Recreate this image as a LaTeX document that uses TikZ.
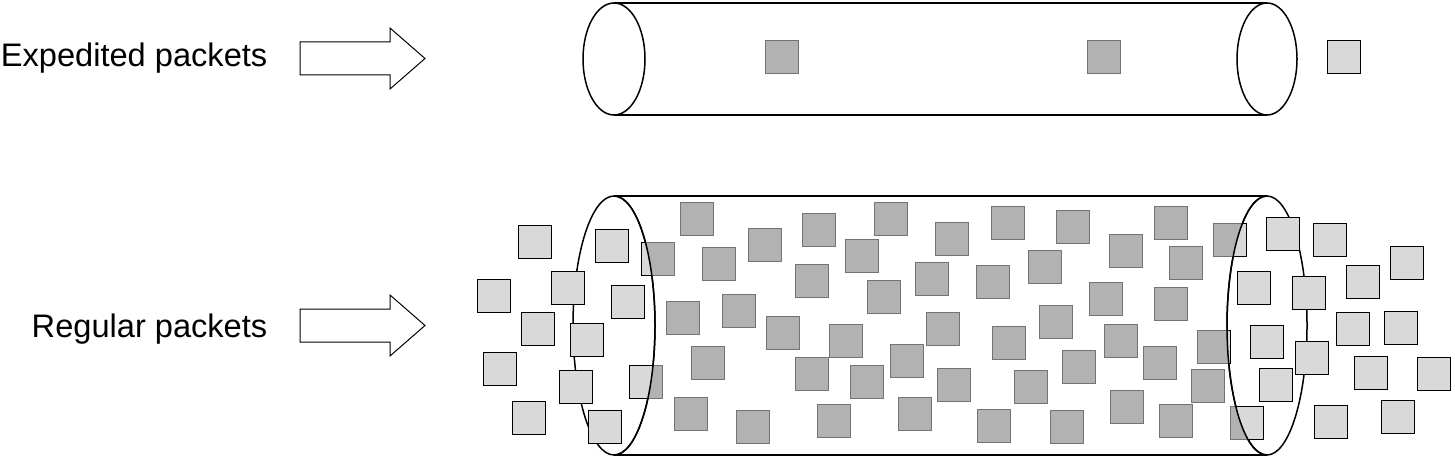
\documentclass[tikz,border=0pt]{standalone}
\usepackage{fontspec}
\setmainfont{Liberation Sans}

% packet centres of the lower pipe (x/y in pixels, y down)
\newcommand\pktlist{535/242,612/246,494/296,568/288,628/302,538/329,587/340,500/369,576/387,529/418,605/427,
697/219,658/259,765/245,719/264,683/318,739/311,783/333,708/363,646/382,691/414,753/427,
819/230,891/219,862/256,952/239,1008/223,1073/227,1126/251,812/281,884/297,932/279,993/282,1045/267,1106/299,
846/341,943/329,1009/343,1056/322,1121/341,812/374,867/382,907/361,954/385,1031/387,1079/367,1127/407,
834/421,915/414,994/426,1067/427,
1171/223,1230/240,1186/263,1171/304,1214/347,1160/363,1208/386,1176/421,1247/423,
1283/234,1330/240,1254/288,1309/293,1363/282,1407/263,1267/342,1312/358,1353/329,1401/328,1276/385,1371/373,1434/374,1331/422,1398/417}

\tikzset{
  inpipe/.style={draw=black!55, fill=black!30, line width=1.3pt, minimum size=33pt, inner sep=0pt, outer sep=0pt},
  outpipe/.style={draw=black, fill=black!15, line width=1.5pt, minimum size=33pt, inner sep=0pt, outer sep=0pt},
  pipe/.style={line width=1.5pt},
  label/.style={font=\fontsize{32.6}{38}\selectfont, inner sep=0pt, anchor=base east},
  bigarrow/.style={line width=1pt}
}

\begin{document}
\begin{tikzpicture}[x=1pt, y=-1pt]
\useasboundingbox (0,0) rectangle (1455,457);

% labels
\node[label] (expedited) at (267.5,67) {Expedited packets};
\node[label] (regular) at (267.5,337) {Regular packets};

% block arrows
\draw[bigarrow] (300,42) -- (390,42) -- (390,28) -- (425,58.5) -- (390,89) -- (390,75) -- (300,75) -- cycle;
\draw[bigarrow] (300,309) -- (390,309) -- (390,295) -- (425,325.5) -- (390,356) -- (390,342) -- (300,342) -- cycle;

% upper pipe
\draw[pipe] (614,3) -- (1267,3);
\draw[pipe] (614,115) -- (1267,115);
\draw[pipe] (614,59) ellipse [x radius=31, y radius=56];
\draw[pipe] (1267,59) ellipse [x radius=30, y radius=56];
\node[inpipe] (e1) at (782,57) {};
\node[inpipe] (e2) at (1104,57) {};
\node[outpipe] (e3) at (1344,57) {};

% lower pipe
\draw[pipe] (614,196) -- (1267,196);
\draw[pipe] (614,455) -- (1267,455);
\draw[pipe] (614,325.5) ellipse [x radius=41, y radius=129.5];
\draw[pipe] (1267,325.5) ellipse [x radius=40, y radius=129.5];

\foreach \x/\y [count=\i] in \pktlist
  \node[inpipe] (p\i) at (\x,\y) {};

% packets outside the pipe are lighter
\begin{scope}
\clip (0,0) -- (614,0) -- (614,196) arc (-90:90:41 and 129.5) -- (614,457) -- (0,457) -- cycle
      (1455,0) -- (1267,0) -- (1267,196) arc (-90:-270:40 and 129.5) -- (1267,457) -- (1455,457) -- cycle;
\foreach \x/\y [count=\i] in \pktlist
  \node[outpipe] (q\i) at (\x,\y) {};
\end{scope}

% front rims
\draw[pipe] (614,196) arc (-90:90:41 and 129.5);
\draw[pipe] (1267,196) arc (-90:-270:40 and 129.5);
\end{tikzpicture}
\end{document}
